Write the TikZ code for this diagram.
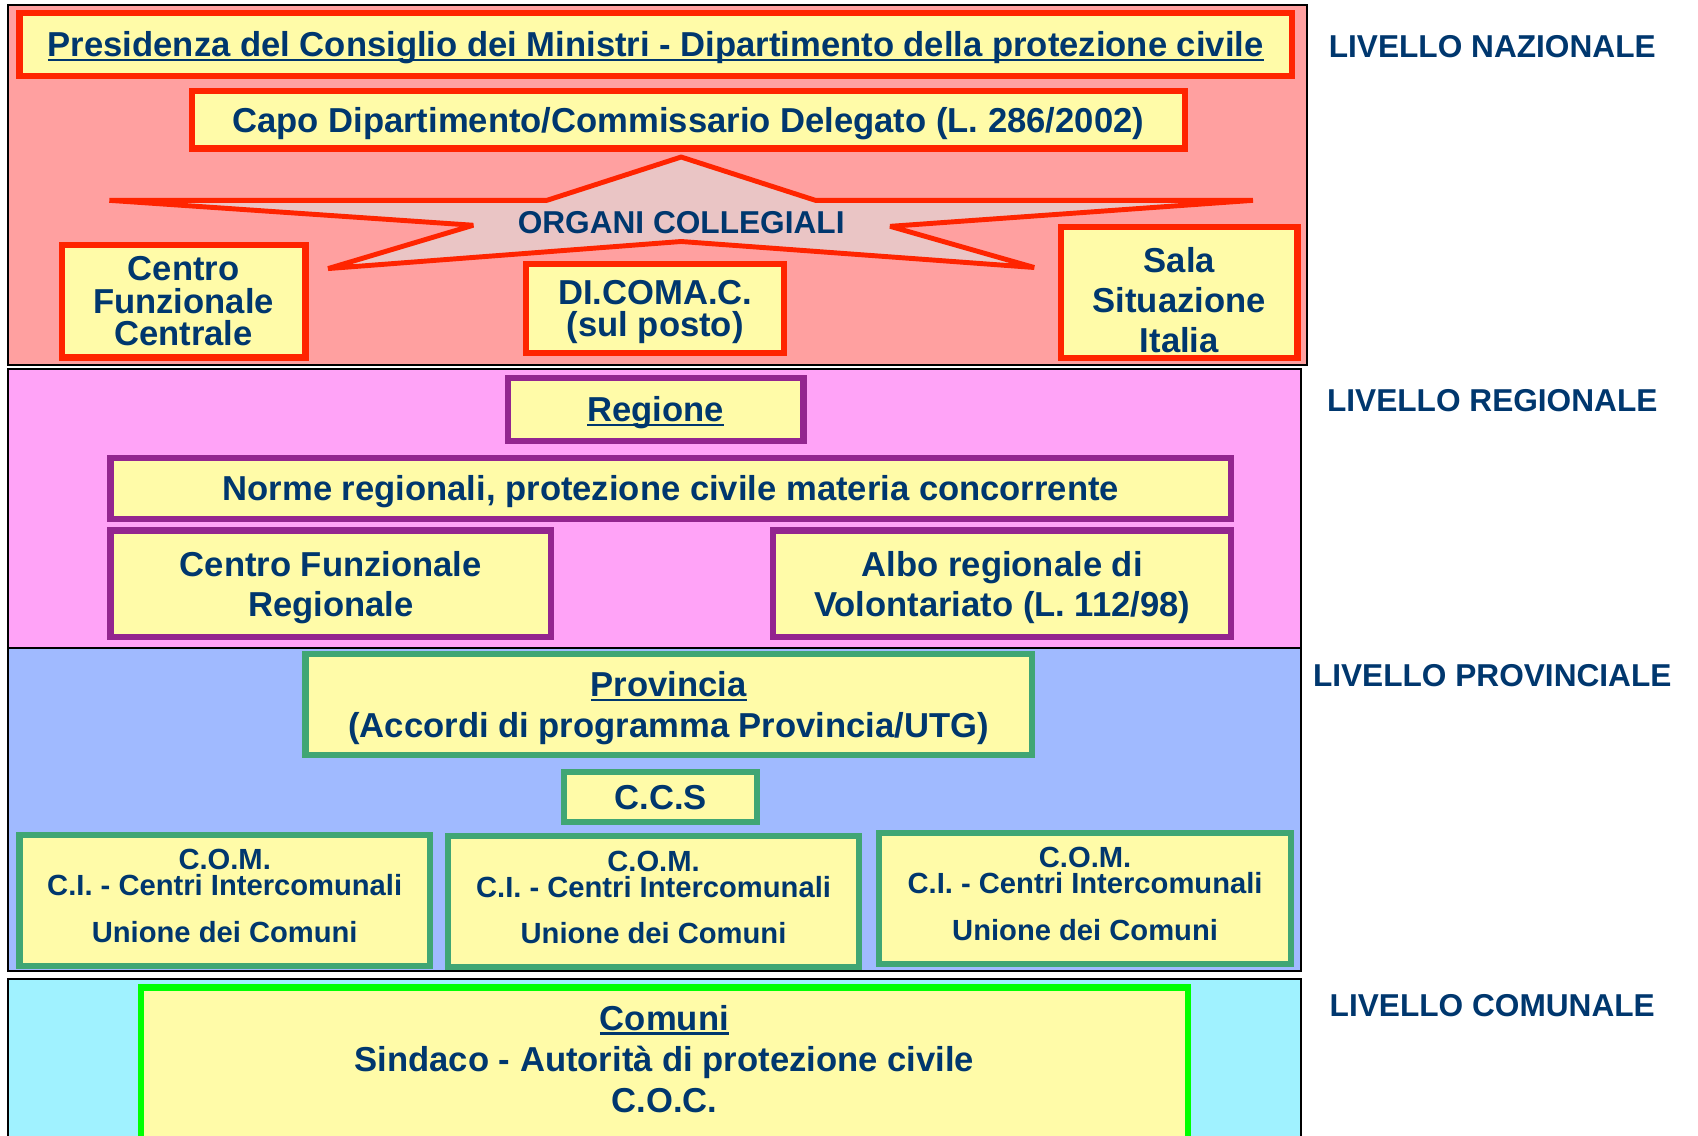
\documentclass[tikz,border=0pt]{standalone}
\usepackage{fontspec}
\setmainfont{Liberation Sans}
\usetikzlibrary{math}

\definecolor{navytext}{RGB}{0,55,110}
\definecolor{nazfill}{RGB}{255,160,160}
\definecolor{regfill}{RGB}{255,163,247}
\definecolor{provfill}{RGB}{160,186,255}
\definecolor{comfill}{RGB}{160,242,255}
\definecolor{boxyellow}{RGB}{255,251,168}
\definecolor{starfill}{RGB}{234,197,197}
\definecolor{redline}{RGB}{255,36,0}
\definecolor{purpleline}{RGB}{147,37,143}
\definecolor{greenline}{RGB}{64,166,116}
\definecolor{brightgreen}{RGB}{0,255,0}

\newcommand{\lineunder}[1]{\setbox0=\hbox{#1}\rlap{\rule[-2.5pt]{\wd0}{1.35pt}}\box0}

\tikzset{
    boxsize/.style 2 args={minimum width={#1*0.6163pt}, minimum height={#2*0.6163pt}},
    levelbox/.style={draw, fill=boxyellow, line width=3.6pt, text=navytext,
        align=center, inner sep=0pt, text depth=-1pt,
        font=\bfseries\fontsize{19.7}{22.8}\selectfont},
    nazbox/.style={levelbox, draw=redline},
    regbox/.style={levelbox, draw=purpleline},
    provbox/.style={levelbox, draw=greenline},
    combox/.style={levelbox, draw=brightgreen},
    comtext/.style={text depth=5pt, font=\bfseries\fontsize{16.6}{14.8}\selectfont},
    levellabel/.style={text=navytext, font=\bfseries\fontsize{18}{20}\selectfont},
    band/.style={draw=black, line width=1.2pt},
}

\begin{document}
\begin{tikzpicture}[x=0.6163pt, y=-0.6163pt]

% Picture size
\tikzmath{
    \PicWidth = 1568;
    \PicHeight = 1049;
    \LabelX = 1378;
}
\useasboundingbox (0,0) rectangle (\PicWidth,\PicHeight);
\clip (0,0) rectangle (\PicWidth,\PicHeight);

% Draws levels
\filldraw [band, fill=nazfill] (7,5) rectangle (1207,337);
\filldraw [band, fill=regfill] (7,341) rectangle (1201,598);
\filldraw [band, fill=provfill] (7,598) rectangle (1201,897);
\fill [comfill] (7,904) rectangle (1201,1049);
\draw [band] (7,1049) -- (7,904) -- (1201,904) -- (1201,1049);

% Level names
\node [levellabel] (naz) at (\LabelX,43) {LIVELLO NAZIONALE};
\node [levellabel] (reg) at (\LabelX,370) {LIVELLO REGIONALE};
\node [levellabel] (prov) at (\LabelX,624) {LIVELLO PROVINCIALE};
\node [levellabel] (com) at (\LabelX,929) {LIVELLO COMUNALE};

% Livello nazionale
\node [nazbox, boxsize={1175}{58}] (presidenza) at (605.5,41)
    {\lineunder{Presidenza del Consiglio dei Ministri - Dipartimento della protezione civile}};
\node [nazbox, boxsize={917}{53}] (capo) at (635.5,110.5)
    {Capo Dipartimento/Commissario Delegato (L. 286/2002)};

\coordinate (S0) at (629,145);
\coordinate (S1) at (753,185);
\coordinate (S2) at (1157,185);
\coordinate (S3) at (822,209);
\coordinate (S4) at (955,247);
\coordinate (S5) at (629,223);
\coordinate (S6) at (303,248);
\coordinate (S7) at (437,208);
\coordinate (S8) at (101,185);
\coordinate (S9) at (505,185);
\filldraw [draw=redline, fill=starfill, line width=2.8pt, line join=bevel]
    (S0) -- (S1) -- (S2) -- (S3) -- (S4) -- (S5) -- (S6) -- (S7) -- (S8) -- (S9) -- cycle;
\node [levellabel] (organi) at (629,206) {ORGANI COLLEGIALI};

\node [nazbox, boxsize={225}{104}] (cfc) at (169.5,278)
    {Centro\\[-4.3pt]Funzionale\\[-4.3pt]Centrale};
\node [nazbox, boxsize={238}{82}] (dicomac) at (605,285)
    {DI.COMA.C.\\[-4.3pt](sul posto)};
\node [nazbox, boxsize={218}{121}] (sala) at (1089,270)
    {\rule{0pt}{22.4pt}Sala\\Situazione\\Italia};

% Livello regionale
\node [regbox, boxsize={273}{58}] (regione) at (605.5,378) {\lineunder{Regione}};
\node [regbox, boxsize={1035}{56}] (norme) at (619.5,451)
    {Norme regionali, protezione civile materia concorrente};
\node [regbox, boxsize={407}{98}] (cfr) at (305.5,539) {Centro Funzionale\\Regionale};
\node [regbox, boxsize={423}{98}] (albo) at (925.5,539)
    {Albo regionale di\\Volontariato (L. 112/98)};

% Livello provinciale
\node [provbox, boxsize={671}{93}] (provincia) at (617.5,650.5)
    {\lineunder{Provincia}\\(Accordi di programma Provincia/UTG)};
\node [provbox, boxsize={178}{46}] (ccs) at (610,736) {C.C.S};
\node [provbox, comtext, boxsize={379}{121}] (comA) at (207.5,831.5)
    {C.O.M.\\C.I. - Centri Intercomunali\\[11.7pt]Unione dei Comuni};
\node [provbox, comtext, boxsize={379}{121}] (comB) at (603.5,832.5)
    {C.O.M.\\C.I. - Centri Intercomunali\\[11.7pt]Unione dei Comuni};
\node [provbox, comtext, boxsize={380}{121}] (comC) at (1002,829.5)
    {C.O.M.\\C.I. - Centri Intercomunali\\[11.7pt]Unione dei Comuni};

% Livello comunale
\node [combox, anchor=north, boxsize={967}{220}] (comunibox) at (613.5,909) {};
\node [text=navytext, align=center, font=\bfseries\fontsize{19.7}{23.5}\selectfont] (comuni) at (613.5,978)
    {\lineunder{Comuni}\\Sindaco - Autorità di protezione civile\\C.O.C.};

\end{tikzpicture}
\end{document}
